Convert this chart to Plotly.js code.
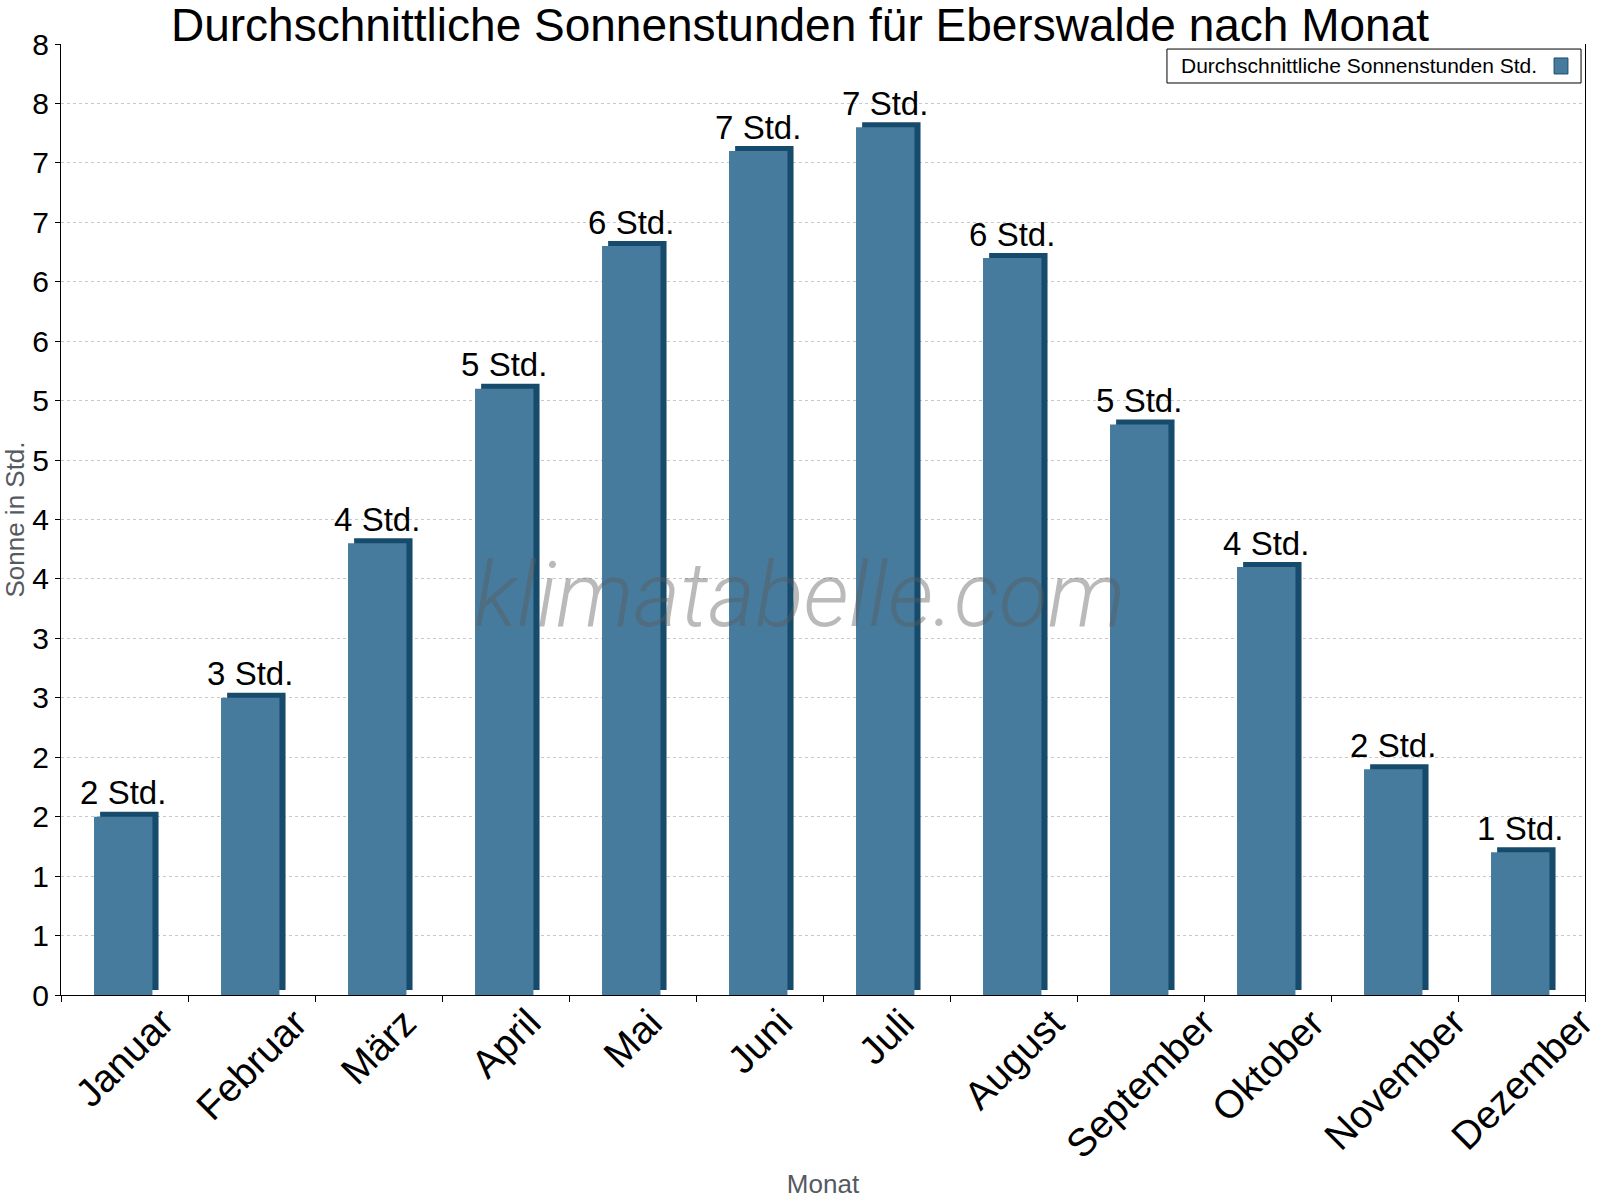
<!DOCTYPE html>
<html>
<head>
<meta charset="utf-8">
<script src="https://cdn.plot.ly/plotly-3.0.1.min.js"></script>
<style>
  html, body { margin: 0; padding: 0; background: #fff; }
  #chart { width: 1600px; height: 1200px; }
</style>
</head>
<body>
<div id="chart"></div>
<script>
// Monthly average sunshine hours, Eberswalde
const months = ["Januar", "Februar", "März", "April", "Mai", "Juni",
                "Juli", "August", "September", "Oktober", "November", "Dezember"];
const sunHours = [1.5, 2.5, 3.8, 5.1, 6.3, 7.1, 7.3, 6.2, 4.8, 3.6, 1.9, 1.2];
const barLabels = sunHours.map(v => Math.round(v) + " Std.");

const yTickVals = [0, 0.5, 1, 1.5, 2, 2.5, 3, 3.5, 4, 4.5, 5, 5.5, 6, 6.5, 7, 7.5, 8];
const yTickText = ["0", "1", "1", "2", "2", "3", "3", "4", "4", "5", "5", "6", "6", "7", "7", "8", "8"];

const seriesName = "Durchschnittliche Sonnenstunden Std.";

const FRONT = "#467b9d";
const SIDE = "#174b6c";
const FONT = "Liberation Sans, Arial, sans-serif";

// depth of the extruded look (category units / data units)
const depthX = 0.048;
const depthY = 0.042;
const barW = 0.46;
const barOff = -0.24;

const traces = [
  { // dark extrusion behind the face
    type: "bar", x: months, y: sunHours, base: depthY,
    width: barW, offset: barOff + depthX,
    marker: { color: SIDE, line: { width: 0 } },
    hoverinfo: "skip", showlegend: false
  },
  { // bar face
    type: "bar", x: months, y: sunHours, name: seriesName,
    width: barW, offset: barOff,
    marker: { color: FRONT, line: { width: 0 } },
    showlegend: false
  },
  { // value labels above each bar
    type: "bar", x: months, y: sunHours, base: 0.02,
    width: barW, offset: barOff,
    marker: { color: "rgba(0,0,0,0)", line: { width: 0 } },
    text: barLabels, textposition: "outside", cliponaxis: false,
    constraintext: "none",
    textfont: { family: FONT, size: 33, color: "#000" },
    hoverinfo: "skip", showlegend: false
  }
];

// month names, rotated and centred under each category
const monthLabels = months.map(m => ({
  text: m, xref: "x", yref: "paper", x: m, y: -0.003,
  xanchor: "center", yanchor: "top", textangle: -45,
  showarrow: false, font: { family: FONT, size: 39, color: "#000" }
}));

const layout = {
  width: 1600, height: 1200,
  margin: { l: 61, r: 15, t: 44, b: 205 },
  paper_bgcolor: "#fff", plot_bgcolor: "#fff",
  barmode: "overlay",
  showlegend: false,
  hovermode: false,
  font: { family: FONT, color: "#000" },
  title: {
    text: "Durchschnittliche Sonnenstunden für Eberswalde nach Monat",
    font: { family: FONT, size: 46, color: "#000" },
    x: 0.5, xanchor: "center", xref: "container",
    y: 0.979, yanchor: "middle", yref: "container"
  },
  xaxis: {
    type: "category",
    range: [-0.5, 11.5], autorange: false,
    showline: true, linecolor: "#000", linewidth: 1,
    ticks: "outside", ticklen: 6, tickcolor: "#000", tickson: "boundaries",
    showticklabels: false,
    showgrid: false, zeroline: false,
    automargin: false,
    title: { text: "Monat", font: { family: FONT, size: 26, color: "#555a5f" }, standoff: 179 }
  },
  yaxis: {
    range: [0, 8], autorange: false,
    tickmode: "array", tickvals: yTickVals, ticktext: yTickText,
    showline: true, linecolor: "#000", linewidth: 1, mirror: true,
    ticks: "outside", ticklen: 5, tickcolor: "#000",
    tickfont: { family: FONT, size: 30, color: "#000" },
    showgrid: true, gridcolor: "#c8c8c8", griddash: "dot", gridwidth: 1,
    zeroline: false,
    title: { text: "Sonne in Std.", font: { family: FONT, size: 26, color: "#555a5f" }, standoff: 6 }
  },
  shapes: [
    { // legend frame
      type: "rect", xref: "paper", yref: "paper",
      x0: 0.7257, x1: 0.9974, y0: 0.959, y1: 0.9947,
      line: { color: "#000", width: 1 }, fillcolor: "#fff", layer: "above"
    },
    { // legend swatch
      type: "rect", xref: "paper", yref: "paper",
      x0: 0.9797, x1: 0.9888, y0: 0.9685, y1: 0.9853,
      line: { color: SIDE, width: 1 }, fillcolor: FRONT, layer: "above"
    }
  ],
  annotations: monthLabels.concat([
    {
      text: seriesName, xref: "paper", yref: "paper",
      x: 0.7336, y: 0.9769, xanchor: "left", yanchor: "middle",
      showarrow: false, font: { family: FONT, size: 21, color: "#000" }
    },
    {
      text: "klimatabelle.com", xref: "paper", yref: "paper",
      x: 0.4843, y: 0.4206, xanchor: "center", yanchor: "middle",
      showarrow: false,
      font: { family: "Roboto, Liberation Sans, sans-serif", size: 90, style: "italic", weight: 300, color: "rgba(90,90,90,0.42)" }
    }
  ])
};

Plotly.newPlot("chart", traces, layout, { displayModeBar: false, staticPlot: true });
</script>
</body>
</html>
